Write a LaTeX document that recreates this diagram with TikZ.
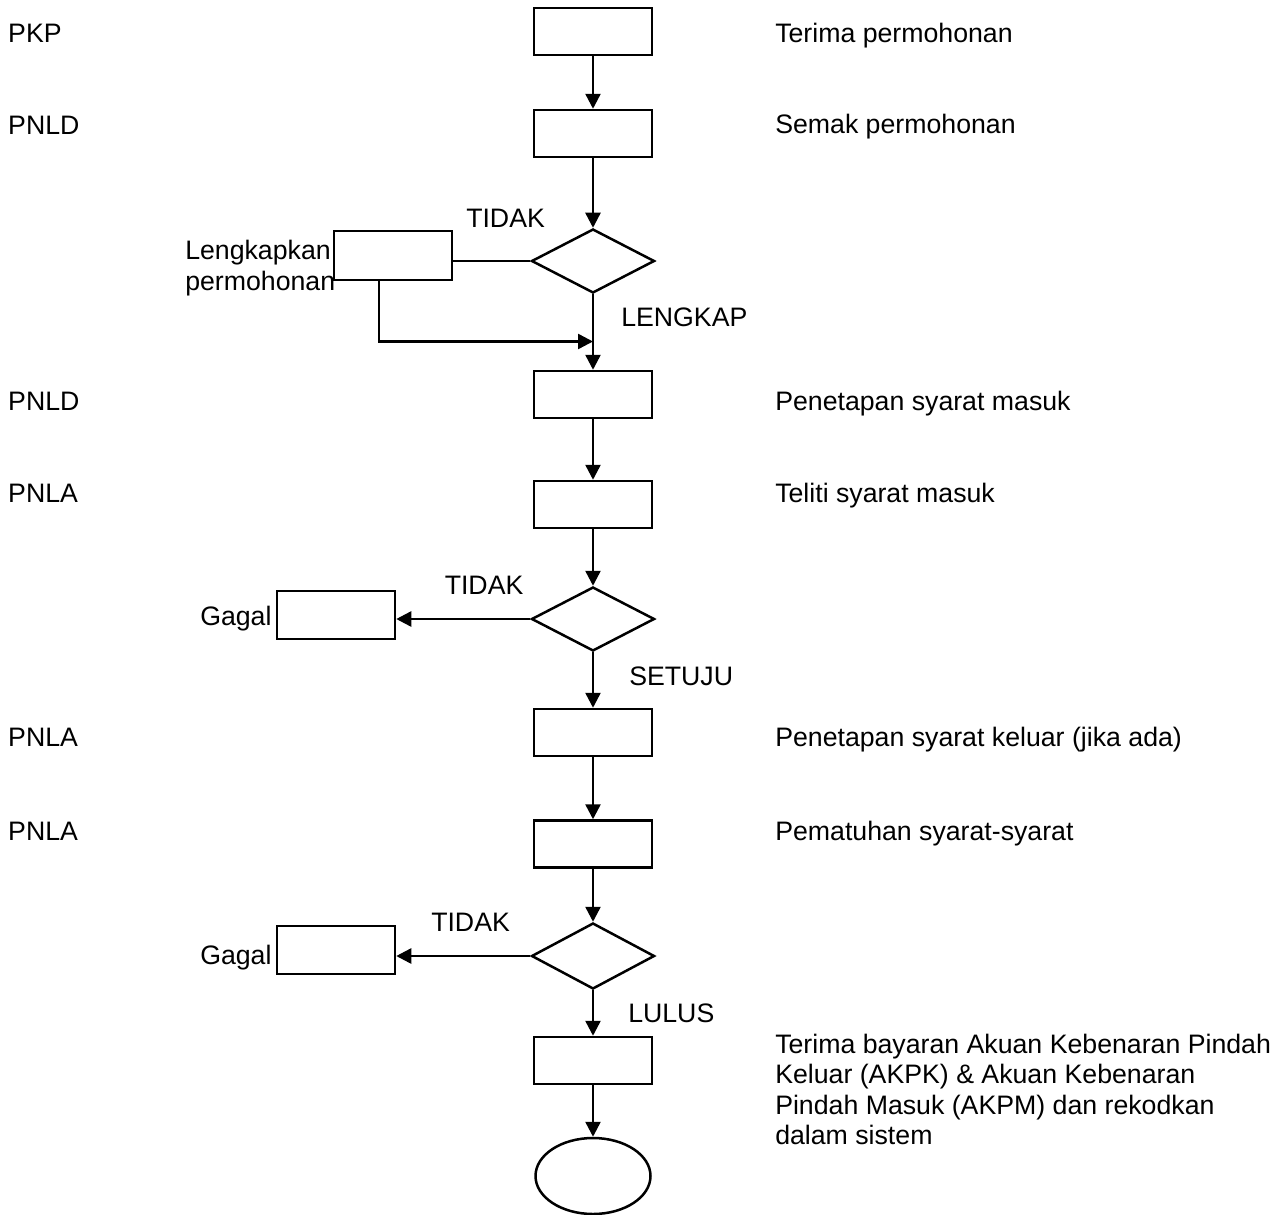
\documentclass[tikz,border=0pt]{standalone}
\usepackage{fontspec}
\setmainfont{Liberation Sans}
\usetikzlibrary{arrows.meta,shapes.geometric}
\begin{document}
\begin{tikzpicture}[x=1pt,y=-1pt,
  line width=2.5pt,
  stepbox/.style={draw,rectangle,minimum width=118pt,minimum height=47pt,inner sep=0pt},
  decide/.style={draw,diamond,minimum width=123pt,minimum height=64pt,inner sep=0pt},
  endnode/.style={draw,ellipse,minimum width=115pt,minimum height=76pt,inner sep=0pt},
  lbl/.style={anchor=base west,inner sep=0pt,font=\fontsize{26.7}{30}\selectfont},
  arr/.style={-{Triangle[length=15pt,width=15pt]}}]
\useasboundingbox (0,0) rectangle (1277,1215);
% main column
\node[stepbox] (b1) at (593,31.5) {};
\node[stepbox] (b2) at (593,133.5) {};
\node[decide] (d1) at (593,261) {};
\node[stepbox] (b3) at (593,394.5) {};
\node[stepbox] (b4) at (593,504.5) {};
\node[decide] (d2) at (593,619) {};
\node[stepbox] (b5) at (593,732.5) {};
\node[stepbox] (b6) at (593,844) {};
\node[decide,minimum height=66pt] (d3) at (593,956) {};
\node[stepbox] (b7) at (593,1060.5) {};
\node[endnode] (e) at (593,1176) {};
% side boxes
\node[stepbox,minimum height=49pt] (lk) at (393,255.5) {};
\node[stepbox,minimum height=48pt] (g1) at (336,615) {};
\node[stepbox,minimum height=48pt] (g2) at (336,950) {};
\coordinate (join) at (593,341.5);
% connectors
\draw[arr] (b1) -- (b2);
\draw[arr] (b2) -- (d1);
\draw[arr] (d1) -- (b3);
\draw (d1.west) -- (d1.west -| lk.east);
\draw[arr] ([xshift=-14pt]lk.south) |- (join);
\draw[arr] (b3) -- (b4);
\draw[arr] (b4) -- (d2);
\draw[arr] (d2.west) -- (d2.west -| g1.east);
\draw[arr] (d2) -- (b5);
\draw[arr] (b5) -- (b6);
\draw[arr] (b6) -- (d3);
\draw[arr] (d3.west) -- (d3.west -| g2.east);
\draw[arr] (d3) -- (b7);
\draw[arr] (b7) -- (e);
% left role labels
\node[lbl] (r1) at (7,42.3) {PKP};
\node[lbl] (r2) at (7,134) {PNLD};
\node[lbl] (r3) at (7,410) {PNLD};
\node[lbl] (r4) at (7,502) {PNLA};
\node[lbl] (r5) at (7,746) {PNLA};
\node[lbl] (r6) at (7,840) {PNLA};
% right descriptions
\node[lbl] (t1) at (774,42.3) {Terima permohonan};
\node[lbl] (t2) at (774,133) {Semak permohonan};
\node[lbl] (t3) at (774,410) {Penetapan syarat masuk};
\node[lbl] (t4) at (774,502) {Teliti syarat masuk};
\node[lbl] (t5) at (774,746) {Penetapan syarat keluar (jika ada)};
\node[lbl] (t6) at (774,840) {Pematuhan syarat-syarat};
\node[lbl] (t7a) at (774,1053) {Terima bayaran Akuan Kebenaran Pindah};
\node[lbl] (t7b) at (774,1083.5) {Keluar (AKPK) \& Akuan Kebenaran};
\node[lbl] (t7c) at (774,1114) {Pindah Masuk (AKPM) dan rekodkan};
\node[lbl] (t7d) at (774,1144) {dalam sistem};
% branch labels
\node[lbl] (n1) at (465,227) {TIDAK};
\node[lbl] (n2) at (620,326) {LENGKAP};
\node[lbl] (n3) at (184,259) {Lengkapkan};
\node[lbl] (n4) at (184,290) {permohonan};
\node[lbl] (n5) at (443.5,594.5) {TIDAK};
\node[lbl] (n6) at (628,685) {SETUJU};
\node[lbl] (n7) at (199,625) {Gagal};
\node[lbl] (n8) at (430,931) {TIDAK};
\node[lbl] (n9) at (627,1022) {LULUS};
\node[lbl] (n10) at (199,964) {Gagal};
\end{tikzpicture}
\end{document}
